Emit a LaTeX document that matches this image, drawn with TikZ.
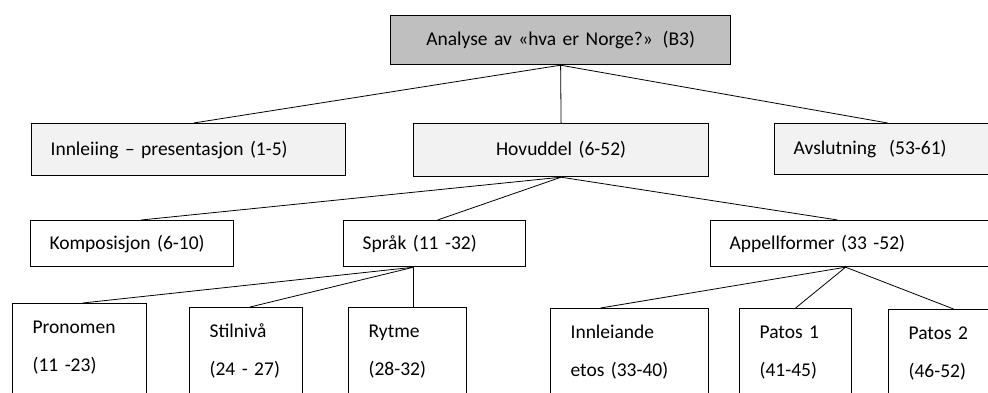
\documentclass[tikz,border=0pt]{standalone}
\usepackage{fontspec}
\setmainfont{Carlito}
\definecolor{toppgraa}{RGB}{191,191,191}
\definecolor{lysgraa}{RGB}{242,242,242}

\begin{document}
\begin{tikzpicture}[x=1pt, y=-1pt,
    kasse/.style={draw, line width=1.2pt, anchor=north west, inner xsep=19pt, inner ysep=0pt,
        align=left, font=\fontsize{19.5}{23}\selectfont},
    lang/.style={kasse, inner xsep=20pt, inner ysep=16pt, text height=14pt, text depth=90pt,
        font=\fontsize{19.5}{38}\selectfont},
    linje/.style={line width=0.8pt}]
\useasboundingbox (0,0) rectangle (988,393);
\clip (0,0) rectangle (988,393);

% toppnivaa
\node[kasse, fill=toppgraa, align=center, text width=302pt, minimum height=49pt] (analyse) at (390,15)
    {Analyse av «hva er Norge?» (B3)};

% andre nivaa
\node[kasse, fill=lysgraa, text width=276pt, minimum height=52pt] (innleiing) at (31,123)
    {Innleiing – presentasjon (1-5)};
\node[kasse, fill=lysgraa, align=center, text width=257pt, minimum height=53pt] (hovuddel) at (413,123)
    {Hovuddel (6-52)};
\node[kasse, fill=lysgraa, text width=188pt, minimum height=51pt] (avslutning) at (774,123)
    {Avslutning~ (53-61)};

% tredje nivaa
\node[kasse, text width=165pt, minimum height=46pt] (komposisjon) at (30,220) {Komposisjon (6-10)};
\node[kasse, text width=144pt, minimum height=46pt] (spraak) at (343,220) {Språk (11 -32)};
\node[kasse, text width=252pt, minimum height=46pt] (appell) at (710,220) {Appellformer (33 -52)};

% fjerde nivaa
\node[lang, text width=94pt] (pronomen) at (12,303) {Pronomen\\(11 -23)};
\node[lang, text width=73pt] (stilniva) at (189,307) {Stilnivå\\(24 - 27)};
\node[lang, text width=78pt] (rytme) at (348,307) {Rytme\\(28-32)};
\node[lang, text width=118pt] (innleiande) at (550,308) {Innleiande\\etos (33-40)};
\node[lang, text width=72pt] (patos1) at (739,308) {Patos 1\\(41-45)};
\node[lang, text width=72pt] (patos2) at (888,309) {Patos 2\\(46-52)};

\draw[linje] (analyse.south) -- ([xshift=5pt]innleiing.north);
\draw[linje] (analyse.south) -- (hovuddel.north);
\draw[linje] (analyse.south) -- (avslutning.north);

\draw[linje] (hovuddel.south) -- ([xshift=9pt]komposisjon.north);
\draw[linje] (hovuddel.south) -- ([xshift=3pt]spraak.north);
\draw[linje] (hovuddel.south) -- ([xshift=-18pt]appell.north);

\draw[linje] ([xshift=-21pt]spraak.south) -- ([xshift=3pt]pronomen.north);
\draw[linje] ([xshift=-21pt]spraak.south) -- ([xshift=4pt]stilniva.north);
\draw[linje] ([xshift=-21pt]spraak.south) -- ([xshift=6pt]rytme.north);

\draw[linje] ([xshift=-10pt]appell.south) -- ([xshift=-29pt]innleiande.north);
\draw[linje] ([xshift=-10pt]appell.south) -- (patos1.north);
\draw[linje] ([xshift=-10pt]appell.south) -- ([xshift=9pt]patos2.north);
\end{tikzpicture}
\end{document}
